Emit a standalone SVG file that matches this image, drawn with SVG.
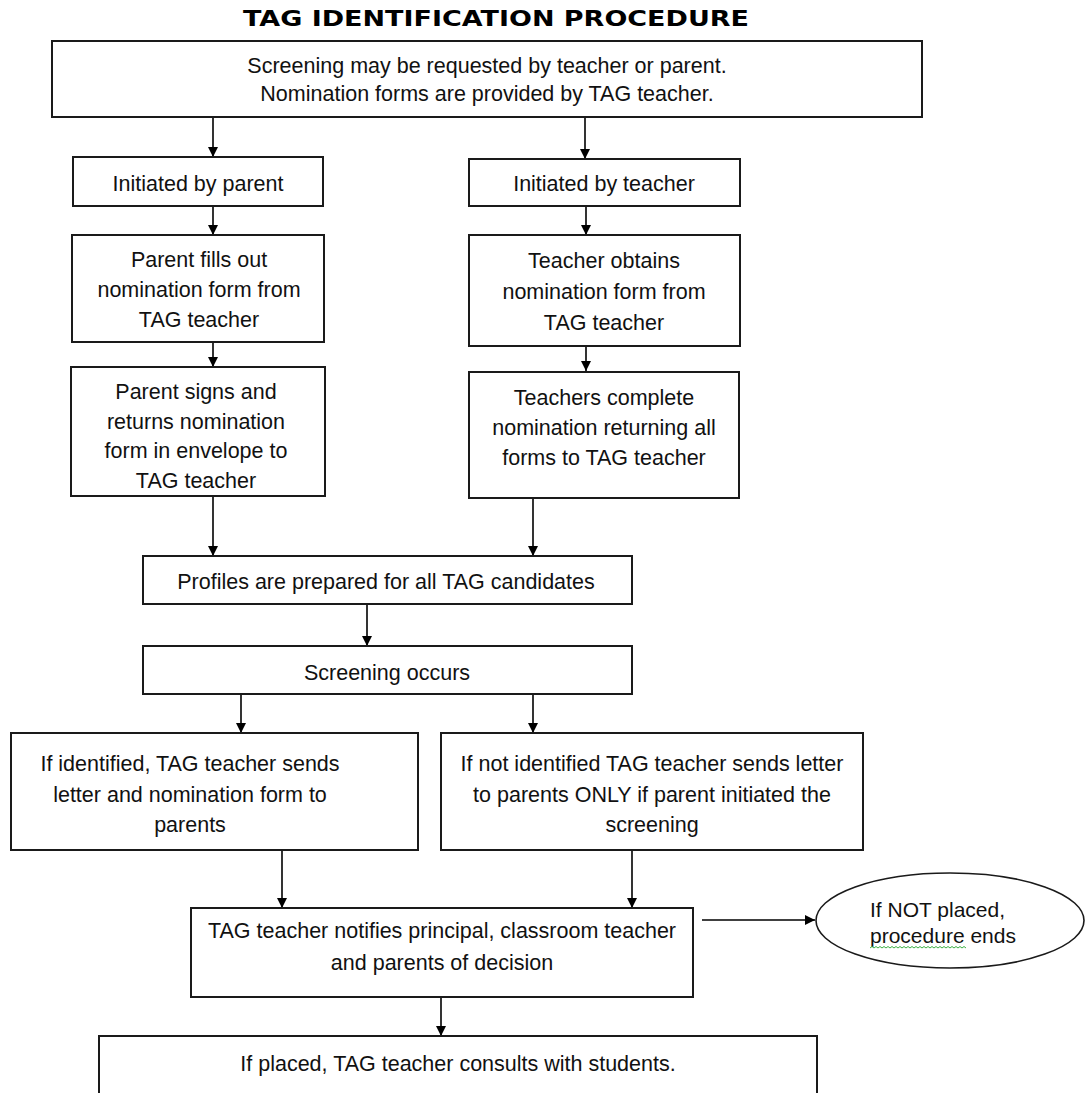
<svg xmlns="http://www.w3.org/2000/svg" width="1085" height="1093" viewBox="0 0 1085 1093">
<style>
.box{fill:#fff;stroke:#1a1a1a;stroke-width:2}
.t{font-family:"Liberation Sans",Arial,sans-serif;font-size:21.5px;fill:#111;text-anchor:middle}
.tl{font-family:"Liberation Sans",Arial,sans-serif;font-size:21px;fill:#111}
.title{font-family:"DejaVu Sans",Verdana,sans-serif;font-weight:bold;font-size:22px;fill:#000;text-anchor:middle}
.c{stroke:#000;stroke-width:1.6;fill:none;marker-end:url(#ah)}
</style>
<defs>
<marker id="ah" viewBox="0 0 10 10" refX="10" refY="5" markerWidth="10" markerHeight="10" markerUnits="userSpaceOnUse" orient="auto">
<path d="M0,0 L10,5 L0,10 z" fill="#000"/>
</marker>
</defs>
<rect width="1085" height="1093" fill="#fff"/>
<text class="title" x="496" y="26" textLength="506" lengthAdjust="spacingAndGlyphs">TAG IDENTIFICATION PROCEDURE</text>

<g id="connectors">
<line class="c" x1="213" y1="117" x2="213" y2="157"/>
<line class="c" x1="585" y1="117" x2="585" y2="159"/>
<line class="c" x1="213" y1="206" x2="213" y2="235"/>
<line class="c" x1="586" y1="206" x2="586" y2="235"/>
<line class="c" x1="213" y1="342" x2="213" y2="367"/>
<line class="c" x1="586" y1="346" x2="586" y2="371"/>
<line class="c" x1="213" y1="496" x2="213" y2="556"/>
<line class="c" x1="533" y1="498" x2="533" y2="556"/>
<line class="c" x1="367" y1="604" x2="367" y2="646"/>
<line class="c" x1="241" y1="694" x2="241" y2="733"/>
<line class="c" x1="533" y1="694" x2="533" y2="733"/>
<line class="c" x1="282" y1="850" x2="282" y2="908"/>
<line class="c" x1="632" y1="850" x2="632" y2="908"/>
<line class="c" x1="702" y1="920" x2="815" y2="920"/>
<line class="c" x1="441" y1="997" x2="441" y2="1036"/>
</g>

<g id="n-start">
<rect class="box" x="52" y="41" width="870" height="76"/>
<text class="t" x="487" y="73">Screening may be requested by teacher or parent.</text>
<text class="t" x="487" y="101">Nomination forms are provided by TAG teacher.</text>
</g>

<g id="n-init-parent">
<rect class="box" x="73" y="157" width="250" height="49"/>
<text class="t" x="198" y="191">Initiated by parent</text>
</g>

<g id="n-init-teacher">
<rect class="box" x="469" y="159" width="271" height="47"/>
<text class="t" x="604" y="191">Initiated by teacher</text>
</g>

<g id="n-parent-fills">
<rect class="box" x="72" y="235" width="252" height="107"/>
<text class="t" x="199" y="267">Parent fills out</text>
<text class="t" x="199" y="297">nomination form from</text>
<text class="t" x="199" y="327">TAG teacher</text>
</g>

<g id="n-teacher-obtains">
<rect class="box" x="469" y="235" width="271" height="111"/>
<text class="t" x="604" y="268">Teacher obtains</text>
<text class="t" x="604" y="299">nomination form from</text>
<text class="t" x="604" y="330">TAG teacher</text>
</g>

<g id="n-parent-signs">
<rect class="box" x="71" y="367" width="254" height="129"/>
<text class="t" x="196" y="399">Parent signs and</text>
<text class="t" x="196" y="428.5">returns nomination</text>
<text class="t" x="196" y="458">form in envelope to</text>
<text class="t" x="196" y="487.5">TAG teacher</text>
</g>

<g id="n-teachers-complete">
<rect class="box" x="469" y="372" width="270" height="126"/>
<text class="t" x="604" y="405">Teachers complete</text>
<text class="t" x="604" y="435">nomination returning all</text>
<text class="t" x="604" y="465">forms to TAG teacher</text>
</g>

<g id="n-profiles">
<rect class="box" x="143" y="556" width="489" height="48"/>
<text class="t" x="386" y="589">Profiles are prepared for all TAG candidates</text>
</g>

<g id="n-screening">
<rect class="box" x="143" y="646" width="489" height="48"/>
<text class="t" x="387" y="680">Screening occurs</text>
</g>

<g id="n-identified">
<rect class="box" x="11" y="733" width="407" height="117"/>
<text class="t" x="190" y="771">If identified, TAG teacher sends</text>
<text class="t" x="190" y="802">letter and nomination form to</text>
<text class="t" x="190" y="832">parents</text>
</g>

<g id="n-not-identified">
<rect class="box" x="441" y="733" width="422" height="117"/>
<text class="t" x="652" y="771">If not identified TAG teacher sends letter</text>
<text class="t" x="652" y="802">to parents ONLY if parent initiated the</text>
<text class="t" x="652" y="832">screening</text>
</g>

<g id="n-notify">
<rect class="box" x="191" y="908" width="502" height="89"/>
<text class="t" x="442" y="938">TAG teacher notifies principal, classroom teacher</text>
<text class="t" x="442" y="970">and parents of decision</text>
</g>

<g id="n-not-placed">
<ellipse cx="950" cy="920.5" rx="134" ry="47.5" fill="#fff" stroke="#1a1a1a" stroke-width="1.6"/>
<text class="tl" x="870" y="917">If NOT placed,</text>
<text class="tl" x="870" y="943">procedure ends</text>
<path d="M870,948 l2,-1.5 l2,1.5 l2,-1.5 l2,1.5 l2,-1.5 l2,1.5 l2,-1.5 l2,1.5 l2,-1.5 l2,1.5 l2,-1.5 l2,1.5 l2,-1.5 l2,1.5 l2,-1.5 l2,1.5 l2,-1.5 l2,1.5 l2,-1.5 l2,1.5 l2,-1.5 l2,1.5 l2,-1.5 l2,1.5 l2,-1.5 l2,1.5 l2,-1.5 l2,1.5 l2,-1.5 l2,1.5 l2,-1.5 l2,1.5 l2,-1.5 l2,1.5 l2,-1.5 l2,1.5 l2,-1.5 l2,1.5 l2,-1.5 l2,1.5 l2,-1.5 l2,1.5 l2,-1.5 l2,1.5 l2,-1.5 l2,1.5 l2,-1.5 l2,1.5" fill="none" stroke="#3cb043" stroke-width="1"/>
</g>

<g id="n-placed">
<rect class="box" x="99" y="1036" width="718" height="80"/>
<text class="t" x="458" y="1071">If placed, TAG teacher consults with students.</text>
</g>
</svg>
